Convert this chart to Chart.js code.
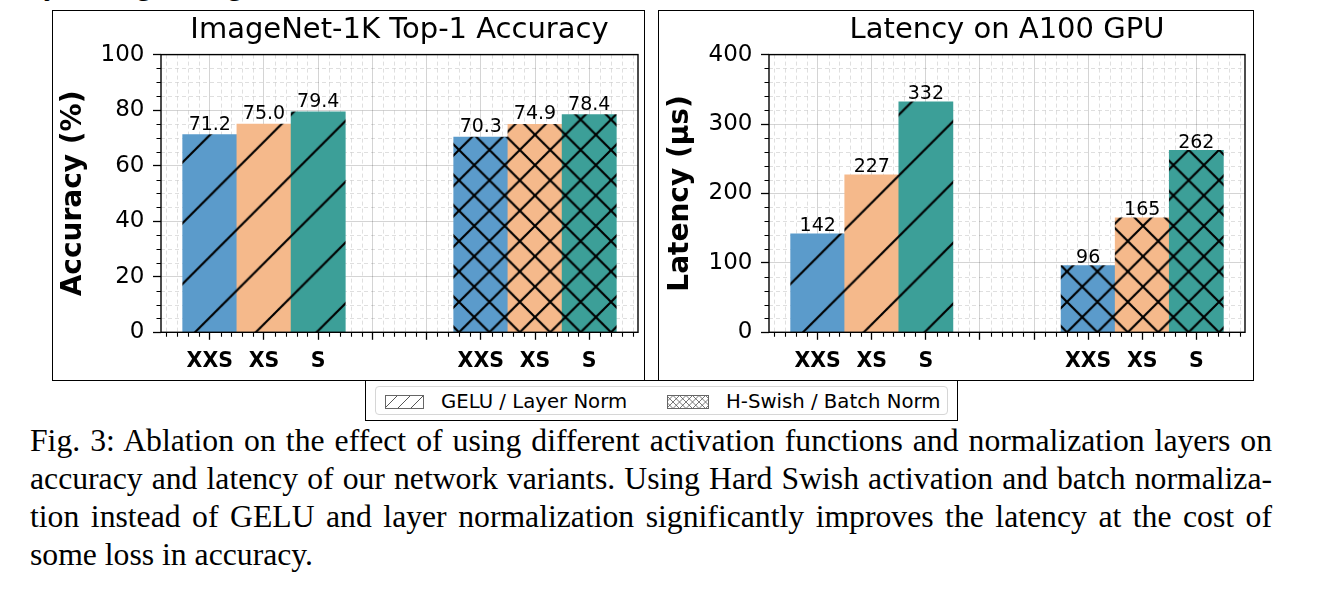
<!DOCTYPE html>
<html>
<head>
<meta charset="utf-8">
<script src="https://cdn.jsdelivr.net/npm/chart.js@4.4.1/dist/chart.umd.min.js"></script>
<style>
  html, body { margin: 0; padding: 0; background: #fff; }
  body { width: 1322px; height: 598px; position: relative; overflow: hidden; font-family: 'DejaVu Sans', sans-serif; }
  .panel { position: absolute; border: 1.3px solid #000; box-sizing: border-box; }
  canvas.chart { position: absolute; }
  #legendOuter { position: absolute; left: 365px; top: 380px; width: 593px; height: 41px; border: 1.3px solid #000; box-sizing: border-box; background: #fff; }
  #legendInner { position: absolute; left: 9px; top: 5px; width: 573px; height: 29px; border: 1px solid #d6d6d6; border-radius: 4px; box-sizing: border-box; }
  .lgItem { position: absolute; top: 0; height: 29px; display: flex; align-items: center; font-family: 'DejaVu Sans'; font-size: 19.7px; color: #000; white-space: nowrap; }
  .lgItem canvas { margin-right: 17px; }
  .cap { position: absolute; left: 30px; width: 1242px; font-family: 'Liberation Serif', 'Times New Roman', serif; font-size: 31.7px; line-height: 38px; color: #000; white-space: normal; }
  .just { text-align: justify; text-align-last: justify; }
  .frag { position: absolute; font-family: 'Liberation Serif', serif; font-size: 31.5px; line-height: 31.5px; top: -32px; color: #000; }
</style>
</head>
<body>
<div class="frag" style="left:44px">y</div>
<div class="frag" style="left:136px">g</div>
<div class="frag" style="left:227px">g</div>

<div class="panel" style="left:52px; top:10px; width:593px; height:371px;"></div>
<div class="panel" style="left:658px; top:10px; width:596px; height:371px;"></div>
<canvas id="accChart" class="chart" width="593" height="370" style="left:52px; top:10px;"></canvas>
<canvas id="latChart" class="chart" width="594" height="370" style="left:659px; top:10px;"></canvas>

<div id="legendOuter">
  <div id="legendInner">
    <div class="lgItem" style="left:9px;"><canvas id="lg1" width="39" height="14"></canvas><span>GELU / Layer Norm</span></div>
    <div class="lgItem" style="left:291px;"><canvas id="lg2" width="42" height="14"></canvas><span>H-Swish / Batch Norm</span></div>
  </div>
</div>

<div class="cap just" style="top:422px;">Fig. 3: Ablation on the effect of using different activation functions and normalization layers on</div>
<div class="cap just" style="top:460px;">accuracy and latency of our network variants. Using Hard Swish activation and batch normaliza-</div>
<div class="cap just" style="top:498px;">tion instead of GELU and layer normalization significantly improves the latency at the cost of</div>
<div class="cap" style="top:536px;">some loss in accuracy.</div>

<script>
// ---------------- data ----------------
const tickLabels = ['XXS', 'XS', 'S', '', '', 'XXS', 'XS', 'S'];
const geluPos = [0, 1, 2];
const hswishPos = [5, 6, 7];
const accGelu = [71.2, 75.0, 79.4];
const accHswish = [70.3, 74.9, 78.4];
const latGelu = [142, 227, 332];
const latHswish = [96, 165, 262];
const accTicks = [0, 20, 40, 60, 80, 100];
const latTicks = [0, 100, 200, 300, 400];
const barColors = ['#5b9bcb', '#f5b98b', '#3c9f98'];

// ---------------- hatch patterns ----------------
const HATCH = 60.8;      // hatch period in px
function hatchPattern(ctx, color, kind, ox, oy) {
  const T = 60;
  const c = document.createElement('canvas');
  c.width = T; c.height = T;
  const g = c.getContext('2d');
  g.fillStyle = color; g.fillRect(0, 0, T, T);
  g.strokeStyle = '#000'; g.lineWidth = 2.1;
  g.beginPath();
  const step = kind === 'x' ? T / 2 : T;
  for (let s = 0; s <= 2 * T + 0.1; s += step) { // '/' lines: x + y = s
    g.moveTo(s + T, -T); g.lineTo(s - 2 * T, 2 * T);
  }
  if (kind === 'x') {
    for (let s = -T; s <= T + 0.1; s += step) { // '\' lines: y - x = s
      g.moveTo(-T, s - T); g.lineTo(2 * T, s + 2 * T);
    }
  }
  g.stroke();
  const p = ctx.createPattern(c, 'repeat');
  const sc = HATCH / T;
  p.setTransform(new DOMMatrix([sc, 0, 0, sc, ox, oy]));
  return p;
}

// ---------------- plugin: minor grid / ticks, frame, value labels ----------------
const decorPlugin = {
  id: 'decor',
  beforeDatasetsDraw(chart, args, o) {
    const { ctx, chartArea: a, scales: { x, y } } = chart;
    ctx.save();
    ctx.strokeStyle = 'rgba(0,0,0,0.16)';
    ctx.lineWidth = 0.8;
    ctx.setLineDash([4, 3]);
    ctx.beginPath();
    for (let v = x.min + o.xMinor / 2; v < x.max; v += o.xMinor) {
      if (Math.abs(v - Math.round(v)) < 1e-6) continue;
      const px = Math.round(x.getPixelForValue(v)) + 0.5;
      ctx.moveTo(px, a.top); ctx.lineTo(px, a.bottom);
    }
    for (let v = y.min + o.yMinor; v < y.max; v += o.yMinor) {
      if (Math.abs(v / o.yMajor - Math.round(v / o.yMajor)) < 1e-6) continue;
      const py = Math.round(y.getPixelForValue(v)) + 0.5;
      ctx.moveTo(a.left, py); ctx.lineTo(a.right, py);
    }
    ctx.stroke();
    ctx.restore();
  },
  afterDatasetsDraw(chart, args, o) {
    const { ctx } = chart;
    ctx.save();
    ctx.fillStyle = '#000';
    ctx.font = '19px "DejaVu Sans"';
    ctx.textAlign = 'center';
    ctx.textBaseline = 'alphabetic';
    chart.data.datasets.forEach((ds, di) => {
      const meta = chart.getDatasetMeta(di);
      meta.data.forEach((el, i) => {
        const v = ds.data[i].y;
        ctx.fillText(v.toFixed(o.decimals), el.x, el.y - o.labelGap);
      });
    });
    ctx.restore();
  },
  afterDraw(chart, args, o) {
    const { ctx, chartArea: a, scales: { x, y } } = chart;
    ctx.save();
    ctx.strokeStyle = '#000';
    ctx.lineWidth = 1.1;
    ctx.beginPath();
    for (let v = x.min + o.xMinor / 2; v < x.max; v += o.xMinor) {
      if (Math.abs(v - Math.round(v)) < 1e-6) continue;
      const px = Math.round(x.getPixelForValue(v)) + 0.5;
      ctx.moveTo(px, a.bottom); ctx.lineTo(px, a.bottom + 4.5);
    }
    for (let v = y.min + o.yMinor; v < y.max; v += o.yMinor) {
      if (Math.abs(v / o.yMajor - Math.round(v / o.yMajor)) < 1e-6) continue;
      const py = Math.round(y.getPixelForValue(v)) + 0.5;
      ctx.moveTo(a.left - 4.5, py); ctx.lineTo(a.left, py);
    }
    ctx.stroke();
    ctx.lineWidth = 1.4;
    ctx.strokeRect(a.left, a.top, a.right - a.left, a.bottom - a.top);
    ctx.restore();
  }
};

function buildChart(id, cfg) {
  const canvas = document.getElementById(id);
  const ctx = canvas.getContext('2d');
  const slash = barColors.map(c => hatchPattern(ctx, c, '/', cfg.slashOff, 0));
  const cross = barColors.map(c => hatchPattern(ctx, c, 'x', cfg.crossOff[0], cfg.crossOff[1]));
  return new Chart(canvas, {
    type: 'bar',
    data: {
      datasets: [
        { label: 'GELU / Layer Norm', data: geluPos.map((p, i) => ({ x: p, y: cfg.gelu[i] })),
          backgroundColor: slash, borderWidth: 0, grouped: false, barPercentage: 1, categoryPercentage: 1 },
        { label: 'H-Swish / Batch Norm', data: hswishPos.map((p, i) => ({ x: p, y: cfg.hswish[i] })),
          backgroundColor: cross, borderWidth: 0, grouped: false, barPercentage: 1, categoryPercentage: 1 }
      ]
    },
    plugins: [decorPlugin],
    options: {
      responsive: false,
      animation: false,
      devicePixelRatio: 1,
      layout: { padding: { left: 0, right: cfg.padRight, top: 0, bottom: 0 } },
      plugins: {
        legend: { display: false },
        tooltip: { enabled: false },
        title: { display: true, fullSize: false, text: cfg.title, color: '#000',
          font: { family: 'DejaVu Sans', size: 29, weight: 'normal' },
          padding: { top: 3, bottom: 6.8 } },
        decor: { xMinor: 0.2, yMinor: cfg.yMinor, yMajor: cfg.yMajor, decimals: cfg.decimals, labelGap: cfg.labelGap }
      },
      scales: {
        x: {
          type: 'linear', min: -0.9, max: 7.9, offset: false,
          afterBuildTicks: s => { s.ticks = tickLabels.map((_, i) => ({ value: i })); },
          afterFit: s => { s.height = 47.7; },
          border: { display: false },
          grid: { offset: false, color: 'rgba(0,0,0,0.17)', lineWidth: 1, tickColor: '#000', tickLength: 7.5, tickWidth: 1.3 },
          ticks: { color: '#000', autoSkip: false, maxRotation: 0, padding: 9.5,
            font: { family: 'DejaVu Sans', size: 20.5, weight: 'bold' },
            callback: v => tickLabels[v] }
        },
        y: {
          min: 0, max: cfg.ticks[cfg.ticks.length - 1],
          afterBuildTicks: s => { s.ticks = cfg.ticks.map(v => ({ value: v })); },
          afterFit: s => { s.width = cfg.yWidth; },
          border: { display: false },
          grid: { color: 'rgba(0,0,0,0.17)', lineWidth: 1, tickColor: '#000', tickLength: 8, tickWidth: 1.3 },
          ticks: { color: '#000', padding: 8.5, font: { family: 'DejaVu Sans', size: 23 } },
          title: { display: true, text: cfg.yTitle, color: '#000', padding: { top: 4.5, bottom: 0 },
            font: { family: 'DejaVu Sans', size: 28, weight: 'bold' } }
        }
      }
    }
  });
}

// left chart canvas origin (52,10); right (659,10)
buildChart('accChart', {
  title: 'ImageNet-1K Top-1 Accuracy', yTitle: 'Accuracy (%)',
  gelu: accGelu, hswish: accHswish, ticks: accTicks,
  yMinor: 5, yMajor: 20, decimals: 1, labelGap: 5,
  yWidth: 109, padRight: 7,
  slashOff: 527.2 - 62, crossOff: [459 - 52, 332.3 - 10]
});
buildChart('latChart', {
  title: 'Latency on A100 GPU', yTitle: 'Latency (µs)',
  gelu: latGelu, hswish: latHswish, ticks: latTicks,
  yMinor: 20, yMajor: 100, decimals: 0, labelGap: 2.5,
  yWidth: 110, padRight: 8,
  slashOff: 527.2 + 10 * HATCH - 669, crossOff: [459 - 659, 332.3 - 10]
});

// ---------------- legend swatches ----------------
function swatch(id, kind) {
  const c = document.getElementById(id);
  const g = c.getContext('2d');
  const w = c.width, h = c.height;
  g.fillStyle = '#fff'; g.fillRect(0, 0, w, h);
  g.save();
  g.beginPath(); g.rect(1, 1, w - 2, h - 2); g.clip();
  g.strokeStyle = '#555'; g.lineWidth = kind === 'x' ? 0.8 : 1;
  g.beginPath();
  const p = kind === 'x' ? 6.5 : 13;
  for (let s = -h; s <= w + h; s += p) {
    g.moveTo(s, h); g.lineTo(s + h, 0);
    if (kind === 'x') { g.moveTo(s, 0); g.lineTo(s + h, h); }
  }
  g.stroke();
  g.restore();
  g.strokeStyle = '#666'; g.lineWidth = 1;
  g.strokeRect(0.5, 0.5, w - 1, h - 1);
}
swatch('lg1', '/');
swatch('lg2', 'x');
</script>
</body>
</html>
